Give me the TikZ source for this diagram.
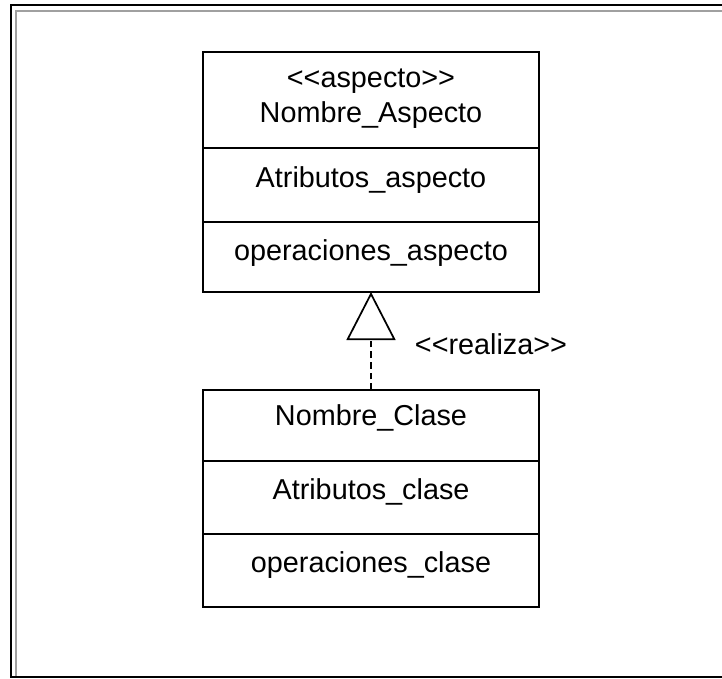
\documentclass[tikz,border=0pt]{standalone}
\usepackage{fontspec}
\newfontfamily\umlfont{Liberation Sans}
\usetikzlibrary{arrows.meta}
\begin{document}
\begin{tikzpicture}[x=0.75pt,y=-0.75pt,
  comp/.style={draw, line width=1.4pt, minimum width=252pt, inner sep=0pt, outer sep=0pt, anchor=north west},
  lbl/.style={font=\umlfont\fontsize{21.6}{26}\selectfont, anchor=base, inner sep=0pt},
  realizes/.style={line width=1.3pt, dash pattern=on 5pt off 3pt,
    -{Triangle[open, length=36pt, width=36.75pt, line width=1.3pt]}}]
\useasboundingbox (0,0) rectangle (722,679);
\clip (0,0) rectangle (722,679);
% frame
\draw[line width=1.5pt, black] (11,5) rectangle (740,677);
\draw[line width=1.5pt, color={rgb,255:red,160;green,160;blue,160}] (16,676) -- (16,10.5) -- (740,10.5);
% aspect class
\node[comp, minimum height=72pt] (ahead) at (203,52) {};
\node[comp, minimum height=55.5pt] (aattr) at (ahead.south west) {};
\node[comp, minimum height=52.5pt] (aops) at (aattr.south west) {};
\node[lbl] (astereo) at (371,87) {<<aspecto>>};
\node[lbl] (aname) at (371,122) {Nombre\_Aspecto};
\node[lbl] (aattrt) at (371,187) {Atributos\_aspecto};
\node[lbl] (aopst) at (371,260) {operaciones\_aspecto};
% class
\node[comp, minimum height=53.25pt] (chead) at (203,390) {};
\node[comp, minimum height=54.75pt] (cattr) at (chead.south west) {};
\node[comp, minimum height=54.75pt] (cops) at (cattr.south west) {};
\node[lbl] (cname) at (371,425.5) {Nombre\_Clase};
\node[lbl] (cattrt) at (371,499) {Atributos\_clase};
\node[lbl] (copst) at (371,572) {operaciones\_clase};
% realization
\draw[realizes] (chead.north) -- (aops.south);
\node[lbl] (real) at (491,354) {<<realiza>>};
\end{tikzpicture}
\end{document}
